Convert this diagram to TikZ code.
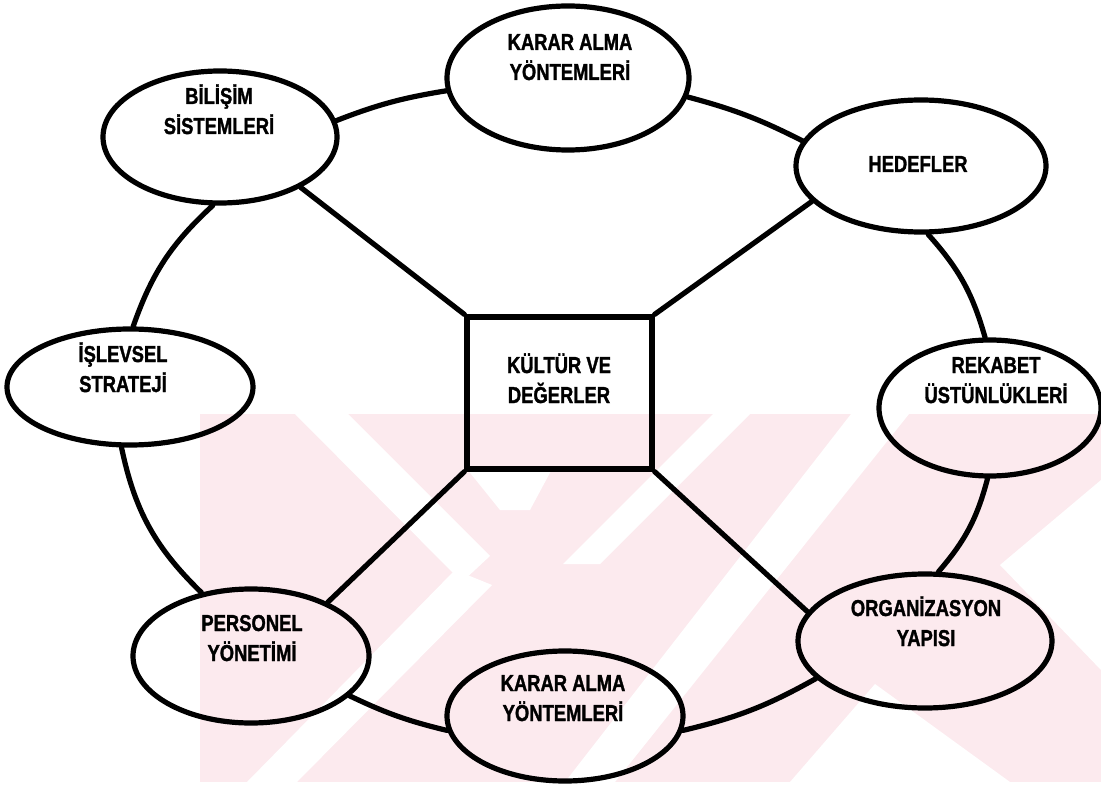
\documentclass[tikz,border=0pt]{standalone}
\usepackage{fontspec}
\newfontfamily\lblfont{Liberation Sans Bold}[FakeBold=1.6]
\usetikzlibrary{shapes.geometric}
\definecolor{wmpink}{RGB}{252,234,238}
% condensed bold label, one or two lines
\newcommand\condlabel[1]{\scalebox{0.8}[1]{\begin{tabular}{@{}c@{}}#1\end{tabular}}}
\begin{document}
\begin{tikzpicture}[x=1pt,y=-1pt,
  bubble/.style={draw, ellipse, line width=5.2pt, inner sep=0pt},
  centrebox/.style={draw, rectangle, line width=5.2pt, inner sep=0pt,
    minimum width=185pt, minimum height=152pt},
  lbl/.style={font={\lblfont\fontsize{23pt}{30pt}\selectfont},
    inner sep=0pt},
  link/.style={line width=5.2pt, line cap=round},
]
\useasboundingbox (0,0) rectangle (1101,786);

% pale background stripes in the lower half
\begin{scope}
  \clip (200,414) rectangle (1101,782);
  \fill[wmpink] (200,414) rectangle (1101,782);
  \fill[white] (295,414) -- (348,414) -- (490,556) -- (462,582) -- cycle;
  \fill[white] (467,469) -- (552,469) -- (530,510) -- (500,510) -- cycle;
  \fill[white] (455,570) -- (492,585) -- (297,782) -- (247,782) -- cycle;
  \fill[white] (713,414) -- (750,414) -- (600,564) -- (563,564) -- cycle;
  \fill[white] (851,414) -- (909,414) -- (615,782) -- (565,782) -- cycle;
  \fill[white] (875,684) -- (1010,782) -- (790,782) -- cycle;
  \fill[white] (1000,565) -- (1101,480) -- (1101,670) -- cycle;
\end{scope}

% outer ring of elements
\node[bubble, minimum width=242pt, minimum height=144pt] (kt)  at (568,78)  {};
\node[bubble, minimum width=234pt, minimum height=132pt] (bil) at (220,137) {};
\node[bubble, minimum width=250pt, minimum height=132pt] (hed) at (921,166) {};
\node[bubble, minimum width=246pt, minimum height=116pt] (isl) at (130,387) {};
\node[bubble, minimum width=222pt, minimum height=136pt] (rek) at (990,408) {};
\node[bubble, minimum width=236pt, minimum height=134pt] (per) at (251,656) {};
\node[bubble, minimum width=236pt, minimum height=130pt] (kb)  at (565,716) {};
\node[bubble, minimum width=254pt, minimum height=134pt] (org) at (925,641) {};

% centre
\node[centrebox] (kd) at (559.5,393) {};

% labels
\node[lbl] (kt-t)  at (570,59)  {\condlabel{KARAR ALMA\\YÖNTEMLERİ}};
\node[lbl] (bil-t) at (219,113) {\condlabel{BİLİŞİM\\SİSTEMLERİ}};
\node[lbl] (hed-t) at (918,166) {\condlabel{HEDEFLER}};
\node[lbl] (isl-t) at (123,371) {\condlabel{İŞLEVSEL\\STRATEJİ}};
\node[lbl] (rek-t) at (996,382) {\condlabel{REKABET\\ÜSTÜNLÜKLERİ}};
\node[lbl] (per-t) at (252,640) {\condlabel{PERSONEL\\YÖNETİMİ}};
\node[lbl] (kb-t)  at (563,700) {\condlabel{KARAR ALMA\\YÖNTEMLERİ}};
\node[lbl] (org-t) at (926,625) {\condlabel{ORGANİZASYON\\YAPISI}};
\node[lbl] (kd-t)  at (559,382) {\condlabel{KÜLTÜR VE\\DEĞERLER}};

% ring connectors
\draw[link] (bil.8)   to[bend left=6]  (kt.186);
\draw[link] (kt.-9)   to[bend left=6]  (hed.168);
\draw[link] (hed.-84) to[bend left=13] (rek.94);
\draw[link] (rek.-92) to[bend left=13] (org.79);
\draw[link] (org.199) to[bend left=8]  (kb.-7);
\draw[link] (kb.187)  to[bend left=6]  (per.-22);
\draw[link] (per.128) to[bend left=17] (isl.-98);
\draw[link] (isl.87)  to[bend left=14] (bil.-96);

% spokes to the centre
\draw[link] (bil.-32) -- (kd.north west);
\draw[link] (hed.198) -- (kd.north east);
\draw[link] (kd.south west) -- (per.35);
\draw[link] (kd.south east) -- (org.166);
\end{tikzpicture}
\end{document}
